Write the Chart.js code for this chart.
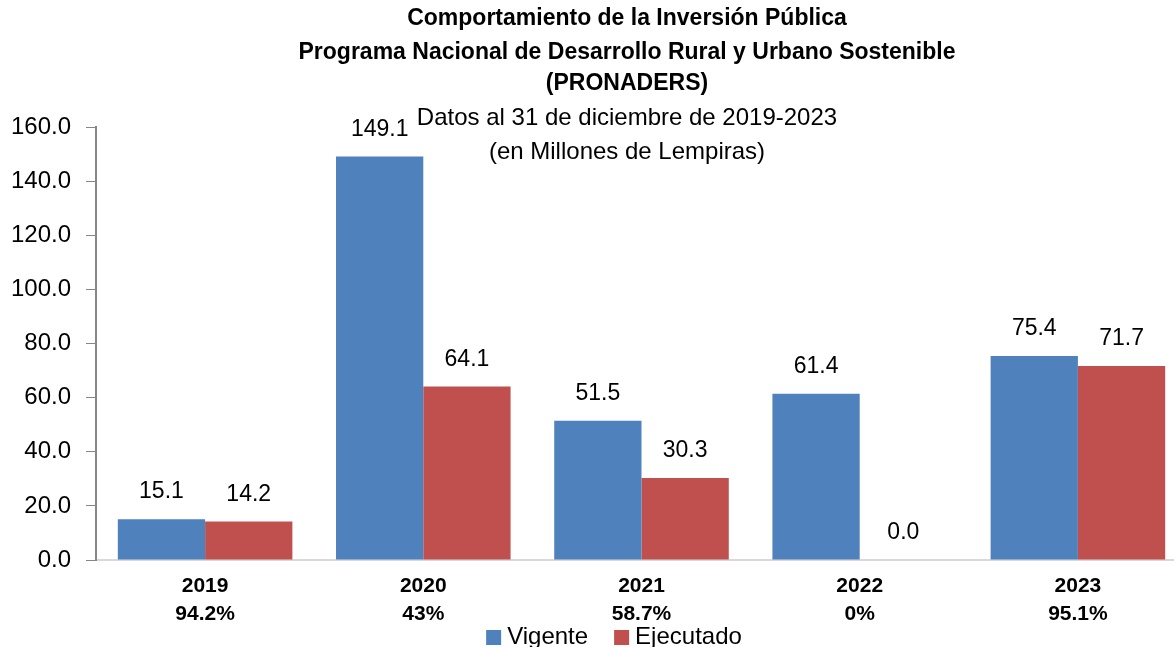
<!DOCTYPE html>
<html>
<head>
<meta charset="utf-8">
<script src="https://cdn.jsdelivr.net/npm/chart.js@4.4.0/dist/chart.umd.min.js"></script>
<style>
  html, body { margin: 0; padding: 0; background: #fff; overflow: hidden; }
  /* plot runs a little past the right edge in the original */
  #wrap { width: 1187px; height: 647px; }
</style>
</head>
<body>
<div id="wrap"><canvas id="chart"></canvas></div>
<script>
// data
const years = ['2019', '2020', '2021', '2022', '2023'];
const execPct = ['94.2%', '43%', '58.7%', '0%', '95.1%'];
const vigente = [15.1, 149.1, 51.5, 61.4, 75.4];
const ejecutado = [14.2, 64.1, 30.3, 0.0, 71.7];

const titleLines = [
    'Comportamiento de la Inversión Pública',
    'Programa Nacional de Desarrollo Rural y Urbano Sostenible',
    '(PRONADERS)'
];
const subtitleLines = [
    'Datos al 31 de diciembre de 2019-2023',
    '(en Millones de Lempiras)'
];

const FONT = '"Liberation Sans", Arial, sans-serif';

// title + subtitle drawn at fixed spots (subtitle sits inside plot area)
const titlePlugin = {
    id: 'titles',
    afterDraw(chart) {
        const ctx = chart.ctx;
        ctx.save();
        ctx.fillStyle = '#000';
        ctx.textAlign = 'center';
        ctx.textBaseline = 'middle';
        ctx.font = 'bold 23px ' + FONT;
        const rows = [19, 53, 84];
        titleLines.forEach((t, i) => ctx.fillText(t, 627, rows[i]));
        ctx.font = '24px ' + FONT;
        const subRows = [118, 152];
        subtitleLines.forEach((t, i) => ctx.fillText(t, 627, subRows[i]));
        ctx.restore();
    }
};

// value labels above each bar
const valuePlugin = {
    id: 'values',
    afterDatasetsDraw(chart) {
        const ctx = chart.ctx;
        ctx.save();
        ctx.fillStyle = '#000';
        ctx.textAlign = 'center';
        ctx.textBaseline = 'middle';
        ctx.font = '23px ' + FONT;
        chart.data.datasets.forEach((ds, di) => {
            chart.getDatasetMeta(di).data.forEach((bar, i) => {
                ctx.fillText(ds.data[i].toFixed(1), bar.x, bar.y - 27);
            });
        });
        ctx.restore();
    }
};

// legend under the axis labels, Excel style (small gap box -> text)
const legendPlugin = {
    id: 'bottomLegend',
    afterDraw(chart) {
        const ctx = chart.ctx;
        const box = 15, gap = 6, between = 26;
        ctx.save();
        ctx.font = '24px ' + FONT;
        ctx.textBaseline = 'middle';
        ctx.textAlign = 'left';
        const items = chart.data.datasets.map(ds => ({
            text: ds.label,
            color: ds.backgroundColor,
            w: ctx.measureText(ds.label).width
        }));
        let total = items.reduce((s, it) => s + box + gap + it.w, 0) + between * (items.length - 1);
        let x = 614 - total / 2;
        const cy = 637;
        items.forEach(it => {
            ctx.fillStyle = it.color;
            ctx.fillRect(x, cy - 7, box, box);
            ctx.fillStyle = '#000';
            ctx.fillText(it.text, x + box + gap, cy);
            x += box + gap + it.w + between;
        });
        ctx.restore();
    }
};

new Chart(document.getElementById('chart'), {
    type: 'bar',
    data: {
        labels: years.map((y, i) => [y, execPct[i]]),
        datasets: [
            {
                label: 'Vigente',
                data: vigente,
                backgroundColor: '#4F81BD',
                categoryPercentage: 0.8,
                barPercentage: 1.0
            },
            {
                label: 'Ejecutado',
                data: ejecutado,
                backgroundColor: '#C0504D',
                categoryPercentage: 0.8,
                barPercentage: 1.0
            }
        ]
    },
    options: {
        responsive: true,
        maintainAspectRatio: false,
        animation: false,
        layout: { padding: { top: 127, left: 0, right: 0, bottom: 21 } },
        plugins: {
            title: { display: false },
            tooltip: { enabled: false },
            legend: { display: false }
        },
        scales: {
            x: {
                grid: { display: false },
                border: { color: '#d9d9d9', width: 2 },
                ticks: {
                    color: '#000',
                    padding: 4,
                    font: { family: FONT, size: 21, weight: 'bold', lineHeight: 1.33 }
                },
                afterFit: scale => { scale.height = 66; }
            },
            y: {
                min: 0,
                max: 160,
                grid: {
                    drawOnChartArea: false,
                    drawTicks: true,
                    tickLength: 10,
                    color: '#868686'
                },
                border: { color: '#868686', width: 2 },
                ticks: {
                    stepSize: 20,
                    color: '#000',
                    padding: 15,
                    font: { family: FONT, size: 24 },
                    callback: v => v.toFixed(1)
                },
                afterFit: scale => { scale.width = 96; }
            }
        }
    },
    plugins: [titlePlugin, valuePlugin, legendPlugin]
});
</script>
</body>
</html>
